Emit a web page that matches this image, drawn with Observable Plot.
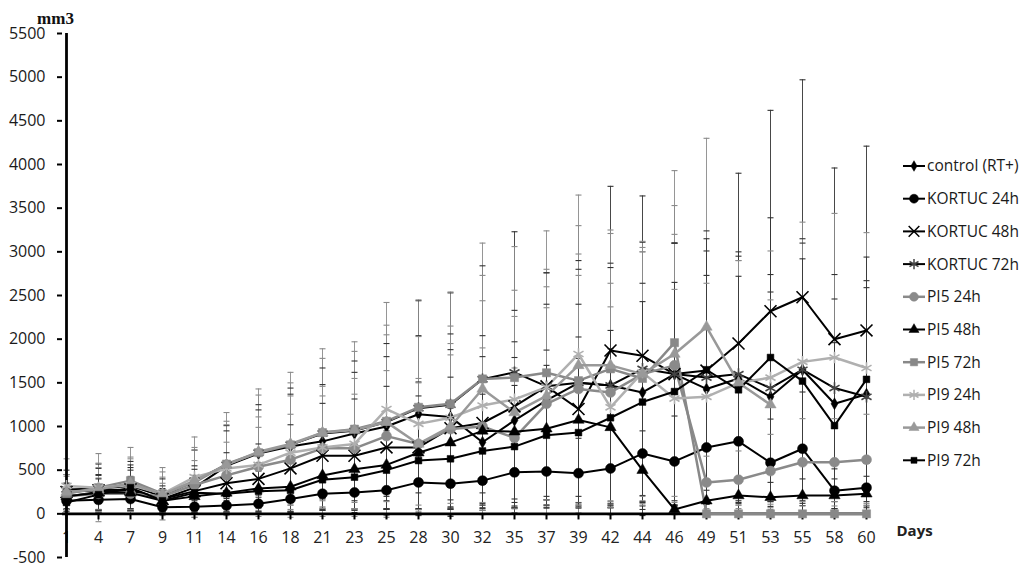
<!DOCTYPE html>
<html><head><meta charset="utf-8">
<script src="https://cdn.jsdelivr.net/npm/d3@7"></script>
<script src="https://cdn.jsdelivr.net/npm/@observablehq/plot@0.6"></script>
<style>
body{margin:0;background:#fff;}
#wrap{position:relative;width:1024px;height:570px;overflow:hidden;}
#wrap svg{position:absolute;left:0;top:0;}
</style></head><body><div id="wrap"></div>
<script>
// ---- data ----
const days = [1,4,7,9,11,14,16,18,21,23,25,28,30,32,35,37,39,42,44,46,49,51,53,55,58,60];
const yTicks = [-500,0,500,1000,1500,2000,2500,3000,3500,4000,4500,5000,5500];
const seriesNames = ["control (RT+)","KORTUC 24h","KORTUC 48h","KORTUC 72h","PI5 24h","PI5 48h","PI5 72h","PI9 24h","PI9 48h","PI9 72h"];

const controlMean  = [200,250,270,170,300,550,690,770,830,920,1000,1140,1110,820,1070,1300,1500,1470,1390,1600,1430,1550,1340,1650,1260,1370];
const controlSD    = [150,200,230,120,250,400,500,600,650,700,800,900,950,700,900,1100,1300,1400,1250,1500,1300,1400,1200,1500,1200,1300];
const kortuc24Mean = [150,160,170,75,80,95,115,170,230,245,270,360,345,380,475,485,465,520,690,600,760,830,585,745,265,300];
const kortuc24SD   = [100,120,110,60,70,80,100,150,180,200,220,300,280,320,400,420,400,450,600,520,650,700,500,650,250,280];
const kortuc48Mean = [250,270,280,170,260,350,400,520,665,665,760,760,980,1040,1230,1460,1200,1870,1810,1600,1640,1950,2320,2480,2000,2100];
const kortuc48SD   = [200,250,250,150,250,350,400,500,600,650,700,750,900,1000,1100,1300,1200,1880,1830,1500,1600,1950,2300,2490,1960,2110];
const kortuc72Mean = [280,290,320,200,380,560,700,790,920,950,1050,1210,1250,1540,1620,1460,1500,1470,1660,1600,1560,1600,1440,1650,1440,1340];
const kortuc72SD   = [220,280,280,200,350,450,550,650,750,800,900,1230,1280,1300,1610,1300,1400,1350,1450,1500,1450,1400,1300,1450,1300,1250];
const pi5_24Mean   = [200,230,230,200,330,440,540,620,750,750,890,800,970,1000,870,1260,1430,1390,1600,1700,360,390,490,590,590,620];
const pi5_24SD     = [150,180,200,150,280,380,450,520,600,620,750,700,850,900,800,1100,1300,1250,1400,1500,300,330,420,500,500,520];
const pi5_48Mean   = [200,240,240,150,200,240,290,310,440,510,560,700,815,950,940,975,1075,990,500,50,150,210,190,210,210,230];
const pi5_48SD     = [150,200,180,120,180,220,260,290,400,450,500,650,750,850,850,900,950,900,450,40,120,180,170,190,190,200];
const pi5_72Mean   = [230,300,380,230,360,570,700,790,930,970,1060,1220,1260,1545,1560,1615,1525,1660,1550,1960,0,0,0,0,0,0];
const pi5_72SD     = [200,280,380,250,400,590,730,830,960,1000,1100,1230,1280,1555,1500,1625,1450,1550,1450,1970,0,0,0,0,0,0];
const pi9_24Mean   = [320,300,330,230,420,520,560,700,760,800,1200,1030,1100,1240,1310,1450,1830,1220,1620,1320,1340,1500,1560,1740,1790,1670];
const pi9_24SD     = [310,390,300,300,460,500,550,650,700,750,1220,1000,1050,1200,1250,1350,1820,1150,1500,1250,1300,1400,1450,1600,1650,1550];
const pi9_48Mean   = [250,280,350,220,380,560,710,800,930,960,1050,800,1000,1430,1160,1350,1700,1700,1600,1830,2140,1500,1250,null,null,null];
const pi9_48SD     = [200,250,300,200,350,500,650,700,850,900,1000,750,950,1300,1100,1250,1600,1550,1450,1700,2160,1400,1200,null,null,null];
const pi9_72Mean   = [130,220,300,150,240,230,260,270,390,420,500,610,630,720,770,900,930,1100,1280,1400,1650,1420,1790,1520,1010,1540];
const pi9_72SD     = [100,180,260,120,200,200,230,240,350,380,450,550,580,650,700,800,850,1000,1150,1250,1500,1300,1600,1400,950,1400];

const means = [controlMean,kortuc24Mean,kortuc48Mean,kortuc72Mean,pi5_24Mean,pi5_48Mean,pi5_72Mean,pi9_24Mean,pi9_48Mean,pi9_72Mean];
const sds   = [controlSD,kortuc24SD,kortuc48SD,kortuc72SD,pi5_24SD,pi5_48SD,pi5_72SD,pi9_24SD,pi9_48SD,pi9_72SD];

// ---- styles ----
const styles = [
  {line:"#000", mark:"#000", symbol:"diamond", r:3.6, filled:true, lw:2},
  {line:"#000", mark:"#000", symbol:"circle", r:5, filled:true, lw:2},
  {line:"#000", mark:"#000", symbol:"times", r:5.5, filled:false, lw:2},
  {line:"#000", mark:"#444", symbol:"asterisk", r:5.5, filled:false, lw:2},
  {line:"#8a8a8a", mark:"#8a8a8a", symbol:"circle", r:5, filled:true, lw:2.5},
  {line:"#000", mark:"#000", symbol:"triangle", r:4.2, filled:true, lw:2},
  {line:"#888", mark:"#888", symbol:"square", r:4.6, filled:true, lw:2.5},
  {line:"#b0b0b0", mark:"#b0b0b0", symbol:"asterisk", r:5.5, filled:false, lw:2.5},
  {line:"#999", mark:"#999", symbol:"triangle", r:4.2, filled:true, lw:2.5},
  {line:"#000", mark:"#000", symbol:"square", r:3.8, filled:true, lw:2}
];

const dayStr = days.map(String);
const rows = [];
seriesNames.forEach((name, si) => {
  days.forEach((d, i) => {
    rows.push({series: name, si, day: String(d), mean: means[si][i], sd: sds[si][i]});
  });
});
const valid = rows.filter(r => r.mean != null);
const withErr = valid.filter(r => r.sd > 0);
const errColor = r => (styles[r.si].line === "#000" ? "#333" : "#8a8a8a");

// horizontal cap symbol for error bars
const capSymbol = {draw(ctx) { ctx.moveTo(-3, 0); ctx.lineTo(3, 0); }};

const FONT = "'Open Sans', 'Noto Sans', sans-serif";
const marks = [];

// error bars
marks.push(Plot.ruleX(withErr, {x: "day", y1: r => r.mean - r.sd, y2: r => r.mean + r.sd, stroke: errColor, strokeWidth: 0.9}));
marks.push(Plot.dot(withErr, {x: "day", y: r => r.mean + r.sd, symbol: capSymbol, r: 3, stroke: errColor, fill: "none", strokeWidth: 1.1}));
marks.push(Plot.dot(withErr, {x: "day", y: r => r.mean - r.sd, symbol: capSymbol, r: 3, stroke: errColor, fill: "none", strokeWidth: 1.1}));

// x tick labels at the zero line (first label partly hidden by the y axis line)
marks.push(Plot.text(dayStr, {x: d => d, y: () => 0, text: d => d, dy: 24, fontSize: 16, fontFamily: FONT, fill: "#222"}));

// axes lines
marks.push(Plot.ruleY([0], {stroke: "#000", strokeWidth: 2.6}));
marks.push(Plot.ruleX([dayStr[0]], {x: d => d, stroke: "#000", strokeWidth: 2.8}));
marks.push(Plot.ruleX(dayStr, {x: d => d, y1: 0, y2: -70, stroke: "#000", strokeWidth: 2}));

// series
seriesNames.forEach((name, si) => {
  const st = styles[si];
  const data = rows.filter(r => r.si === si);
  marks.push(Plot.line(data, {x: "day", y: "mean", stroke: st.line, strokeWidth: st.lw, defined: r => r.mean != null}));
});
seriesNames.forEach((name, si) => {
  const st = styles[si];
  const data = rows.filter(r => r.si === si && r.mean != null);
  marks.push(Plot.dot(data, {x: "day", y: "mean", symbol: st.symbol, r: st.r,
    fill: st.filled ? st.mark : "none", stroke: st.mark, strokeWidth: st.filled ? 0.5 : 1.6}));
});

// y axis
marks.push(Plot.axisY({ticks: yTicks, tickSize: 5, tickPadding: 12, tickFormat: d => String(d),
  fontSize: 16, fontFamily: FONT, fill: "#1a1a1a", stroke: "#000", strokeWidth: 2, label: null}));
// axis titles
marks.push(Plot.text(["mm3"], {frameAnchor: "top-left", text: d => d, dx: -7, dy: -22, textAnchor: "middle",
  fontSize: 17, fontWeight: "bold", fontFamily: "'Liberation Serif', 'DejaVu Serif', serif", fill: "#111"}));
marks.push(Plot.text(["Days"], {frameAnchor: "bottom-right", text: d => d, dx: 26, dy: -22, textAnchor: "start",
  fontSize: 15, fontWeight: "bold", fontFamily: FONT, fill: "#222"}));

const chart = Plot.plot({
  width: 1024, height: 570,
  marginLeft: 62, marginRight: 154, marginTop: 33, marginBottom: 13,
  x: {type: "point", domain: dayStr, padding: 0, axis: null},
  y: {domain: [-500, 5500], axis: null},
  style: {background: "#fff", fontFamily: FONT, overflow: "visible"},
  marks
});
document.getElementById("wrap").appendChild(chart);

// legend (drawn to the right of the plot)
const leg = d3.select("#wrap").append("svg").attr("width", 1024).attr("height", 570)
  .style("pointer-events", "none");
const d3sym = {diamond: d3.symbolDiamond, circle: d3.symbolCircle, times: d3.symbolTimes, asterisk: d3.symbolAsterisk, triangle: d3.symbolTriangle, square: d3.symbolSquare};
seriesNames.forEach((name, si) => {
  const st = styles[si];
  const y = 166 + si * 32.7;
  const g = leg.append("g").attr("transform", `translate(903,${y})`);
  g.append("line").attr("x1", 0).attr("x2", 22).attr("y1", 0).attr("y2", 0).attr("stroke", st.line).attr("stroke-width", st.lw);
  g.append("path").attr("transform", "translate(11,0)")
    .attr("d", d3.symbol(d3sym[st.symbol], Math.PI * st.r * st.r * 0.8)())
    .attr("fill", st.filled ? st.mark : "none").attr("stroke", st.mark).attr("stroke-width", st.filled ? 0.5 : 1.5);
  g.append("text").attr("x", 24).attr("y", 0).attr("dy", "0.35em").text(name)
    .attr("font-family", FONT).attr("font-size", 15.5).attr("fill", "#1a1a1a");
});
</script></body></html>
